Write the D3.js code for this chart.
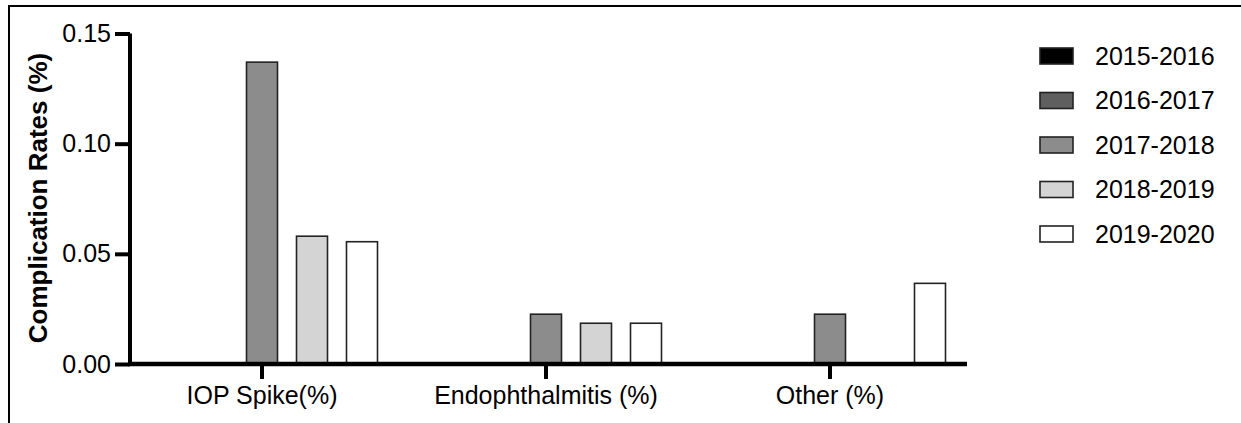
<!DOCTYPE html>
<html>
<head>
<meta charset="utf-8">
<script src="https://cdn.jsdelivr.net/npm/d3@7"></script>
<style>
  body { margin: 0; background: #fff; }
  text { font-family: "Liberation Sans", Arial, sans-serif; }
</style>
</head>
<body>
<div id="chart"></div>
<script>
// data
var groups = ["IOP Spike(%)", "Endophthalmitis (%)", "Other (%)"];
var series = ["2015-2016", "2016-2017", "2017-2018", "2018-2019", "2019-2020"];
var colors = ["#000000", "#5f5f5f", "#8c8c8c", "#d4d4d4", "#ffffff"];
// one array per series, values in group order
var v2015 = [0, 0, 0];
var v2016 = [0, 0, 0];
var v2017 = [0.137, 0.0226, 0.0226];
var v2018 = [0.058, 0.0185, 0];
var v2019 = [0.0555, 0.0185, 0.0366];
var yTicks = [0, 0.05, 0.10, 0.15];

var values = [v2015, v2016, v2017, v2018, v2019];
var rows = [];
groups.forEach(function (g, gi) {
    series.forEach(function (s, si) {
        rows.push({ group: g, series: s, value: values[si][gi] });
    });
});

var W = 1241, H = 423;
var svg = d3.select("#chart").append("svg")
    .attr("width", W)
    .attr("height", H);

// frame (top + left only)
svg.append("path")
    .attr("d", "M9,423V6H1241")
    .attr("fill", "none")
    .attr("stroke", "#000")
    .attr("stroke-width", 2);

var y = d3.scaleLinear().domain([0, 0.15]).range([364, 33.5]);

var x0 = d3.scaleBand().domain(groups).range([120, 972]);
var x1 = d3.scaleBand().domain(series).range([-125, 125])
    .paddingInner(0.38).paddingOuter(0.19);

// bars
svg.append("g")
    .selectAll("rect")
    .data(rows.filter(function (d) { return d.value > 0; }))
    .enter()
    .append("rect")
    .attr("x", function (d) { return x0(d.group) + x0.bandwidth() / 2 + x1(d.series); })
    .attr("y", function (d) { return y(d.value); })
    .attr("width", x1.bandwidth())
    .attr("height", function (d) { return y(0) - y(d.value); })
    .attr("fill", function (d) { return colors[series.indexOf(d.series)]; })
    .attr("stroke", "#222")
    .attr("stroke-width", 1.6);

// y axis
var gy = svg.append("g")
    .attr("transform", "translate(130,0)")
    .call(d3.axisLeft(y).tickValues(yTicks).tickFormat(d3.format(".2f")).tickSize(15).tickSizeOuter(0).tickPadding(4));
gy.select(".domain").attr("stroke-width", 4).attr("d", "M0," + y(0.15) + "V" + (y(0) + 2));
gy.selectAll(".tick line").attr("stroke-width", 4);
gy.selectAll(".tick text").attr("font-size", 25).attr("fill", "#000")
    .attr("font-family", "'Liberation Sans', Arial, sans-serif");

// x axis
var gx = svg.append("g")
    .attr("transform", "translate(0," + y(0) + ")")
    .call(d3.axisBottom(x0).tickSize(15).tickSizeOuter(0).tickPadding(7));
gx.select(".domain").attr("stroke-width", 4.5).attr("d", "M128,0H967");
gx.selectAll(".tick line").attr("stroke-width", 4);
gx.selectAll(".tick text").attr("font-size", 25).attr("fill", "#000")
    .attr("font-family", "'Liberation Sans', Arial, sans-serif");

// y title
svg.append("text")
    .attr("transform", "translate(47,198) rotate(-90)")
    .attr("text-anchor", "middle")
    .attr("font-size", 26)
    .attr("font-weight", "bold")
    .text("Complication Rates (%)");

// legend
var legend = svg.append("g")
    .selectAll("g")
    .data(series)
    .enter()
    .append("g")
    .attr("transform", function (d, i) { return "translate(1040," + (56 + i * 44.5) + ")"; });

legend.append("rect")
    .attr("x", 0)
    .attr("y", -8)
    .attr("width", 33)
    .attr("height", 16)
    .attr("fill", function (d, i) { return colors[i]; })
    .attr("stroke", "#222")
    .attr("stroke-width", 1.6);

legend.append("text")
    .attr("x", 55)
    .attr("y", 0)
    .attr("dy", "0.35em")
    .attr("font-size", 25)
    .text(function (d) { return d; });
</script>
</body>
</html>
